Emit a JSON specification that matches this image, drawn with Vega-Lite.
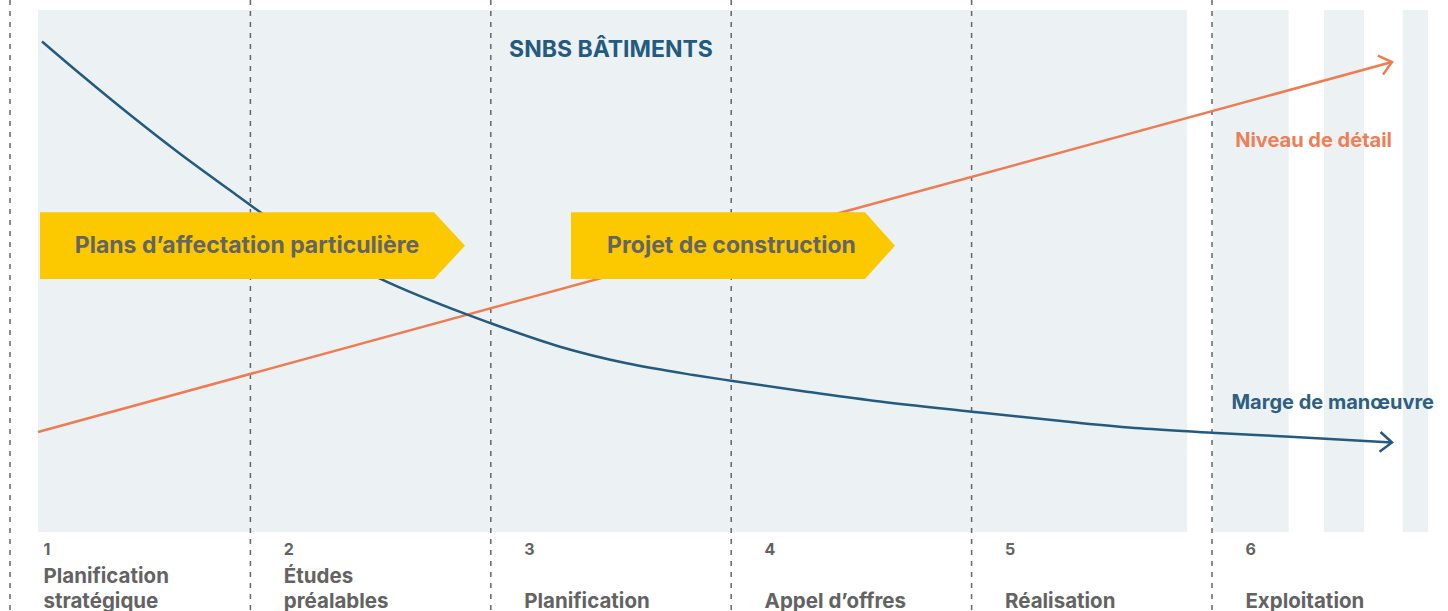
{
  "$schema": "https://vega.github.io/schema/vega-lite/v6.json",
  "width": 1448,
  "height": 611,
  "padding": 0,
  "autosize": {"type": "none"},
  "background": "white",
  "config": {"view": {"stroke": null}, "font": "Inter"},
  "layer": [
    {
      "data": {"values": [
        {"part": "main", "x0": 0.1165, "x1": 4.896, "y0": 0, "y1": 100},
        {"part": "stripe1", "x0": 5.0029, "x1": 5.319, "y0": 0, "y1": 100},
        {"part": "stripe2", "x0": 5.4659, "x1": 5.6323, "y0": 0, "y1": 100},
        {"part": "stripe3", "x0": 5.7932, "x1": 5.8985, "y0": 0, "y1": 100}
      ]},
      "mark": {"type": "rect", "color": "#ecf1f4"},
      "encoding": {
        "x": {"field": "x0", "type": "quantitative", "scale": {"domain": [-0.0416, 5.9817], "nice": false, "zero": false}, "axis": null},
        "x2": {"field": "x1"},
        "y": {"field": "y0", "type": "quantitative", "scale": {"domain": [-15.134, 101.916], "nice": false, "zero": false}, "axis": null},
        "y2": {"field": "y1"}
      }
    },
    {
      "data": {"values": [{"b": 0}, {"b": 1}, {"b": 2}, {"b": 3}, {"b": 4}, {"b": 5}]},
      "mark": {"type": "rule", "color": "#666666", "strokeWidth": 1.5, "strokeDash": [5, 6]},
      "encoding": {
        "x": {"field": "b", "type": "quantitative", "scale": {"domain": [-0.0416, 5.9817], "nice": false, "zero": false}, "axis": null}
      }
    },
    {
      "data": {"values": [{"u": 0.1165, "v": 19.16}, {"u": 5.7488, "v": 90.04}]},
      "mark": {"type": "line", "color": "#ef7b51", "strokeWidth": 2.5},
      "encoding": {
        "x": {"field": "u", "type": "quantitative", "scale": {"domain": [-0.0416, 5.9817], "nice": false, "zero": false}, "axis": null},
        "y": {"field": "v", "type": "quantitative", "scale": {"domain": [-15.134, 101.916], "nice": false, "zero": false}, "axis": null}
      }
    },
    {
      "data": {"values": [
        {"u": 0.1331, "v": 93.97}, {"u": 0.2912, "v": 87.78}, {"u": 0.4992, "v": 79.92},
        {"u": 0.7072, "v": 72.45}, {"u": 0.9151, "v": 65.46}, {"u": 1.0399, "v": 61.3},
        {"u": 1.5391, "v": 48.56}, {"u": 1.8997, "v": 41.7}, {"u": 2.0008, "v": 39.98},
        {"u": 2.2879, "v": 35.5}, {"u": 2.5653, "v": 32.32}, {"u": 2.8423, "v": 30.08},
        {"u": 2.9992, "v": 28.98}, {"u": 3.3141, "v": 26.88}, {"u": 3.5911, "v": 25.15},
        {"u": 4.0004, "v": 23.05}, {"u": 4.4231, "v": 21.02}, {"u": 4.7005, "v": 19.87},
        {"u": 4.9988, "v": 19.02}, {"u": 5.3245, "v": 18.26}, {"u": 5.7488, "v": 17.15}
      ]},
      "mark": {"type": "line", "color": "#245a7e", "strokeWidth": 2.5, "interpolate": "monotone"},
      "encoding": {
        "x": {"field": "u", "type": "quantitative", "scale": {"domain": [-0.0416, 5.9817], "nice": false, "zero": false}, "axis": null},
        "y": {"field": "v", "type": "quantitative", "scale": {"domain": [-15.134, 101.916], "nice": false, "zero": false}, "axis": null}
      }
    },
    {
      "data": {"values": [{"u": 5.7488, "v": 90.04}]},
      "mark": {"type": "point", "shape": "M-1,-0.82L0,0L-1,0.82", "size": 576, "filled": false, "stroke": "#ef7b51", "strokeWidth": 2.5, "opacity": 1, "angle": -15.3},
      "encoding": {
        "x": {"field": "u", "type": "quantitative", "scale": {"domain": [-0.0416, 5.9817], "nice": false, "zero": false}, "axis": null},
        "y": {"field": "v", "type": "quantitative", "scale": {"domain": [-15.134, 101.916], "nice": false, "zero": false}, "axis": null}
      }
    },
    {
      "data": {"values": [{"u": 5.7488, "v": 17.15}]},
      "mark": {"type": "point", "shape": "M-1,-0.82L0,0L-1,0.82", "size": 576, "filled": false, "stroke": "#245a7e", "strokeWidth": 2.5, "opacity": 1, "angle": 3},
      "encoding": {
        "x": {"field": "u", "type": "quantitative", "scale": {"domain": [-0.0416, 5.9817], "nice": false, "zero": false}, "axis": null},
        "y": {"field": "v", "type": "quantitative", "scale": {"domain": [-15.134, 101.916], "nice": false, "zero": false}, "axis": null}
      }
    },
    {
      "data": {"values": [
        {"b": "1", "u": 0.1248, "top": 61.25, "bot": 48.47},
        {"b": "1", "u": 1.7637, "top": 61.25, "bot": 48.47},
        {"b": "1", "u": 1.8927, "top": 54.85, "bot": 54.85},
        {"b": "2", "u": 2.3336, "top": 61.25, "bot": 48.47},
        {"b": "2", "u": 3.5566, "top": 61.25, "bot": 48.47},
        {"b": "2", "u": 3.6814, "top": 54.85, "bot": 54.85}
      ]},
      "mark": {"type": "area", "color": "#fcc900", "opacity": 1, "interpolate": "linear"},
      "encoding": {
        "x": {"field": "u", "type": "quantitative", "scale": {"domain": [-0.0416, 5.9817], "nice": false, "zero": false}, "axis": null},
        "y": {"field": "top", "type": "quantitative", "stack": null, "scale": {"domain": [-15.134, 101.916], "nice": false, "zero": false}, "axis": null},
        "y2": {"field": "bot"},
        "detail": {"field": "b", "type": "nominal"}
      }
    },
    {
      "data": {"values": [
        {"t": "Plans d’affectation particulière", "u": 0.9859, "v": 54.7},
        {"t": "Projet de construction", "u": 3.0012, "v": 54.7}
      ]},
      "mark": {"type": "text", "font": "Inter", "fontSize": 23, "fontWeight": "bold", "color": "#646464", "align": "center", "baseline": "middle"},
      "encoding": {
        "x": {"field": "u", "type": "quantitative", "scale": {"domain": [-0.0416, 5.9817], "nice": false, "zero": false}, "axis": null},
        "y": {"field": "v", "type": "quantitative", "scale": {"domain": [-15.134, 101.916], "nice": false, "zero": false}, "axis": null},
        "text": {"field": "t"}
      }
    },
    {
      "data": {"values": [{"t": "SNBS BÂTIMENTS", "u": 2.5, "v": 92.34}]},
      "mark": {"type": "text", "font": "Inter", "fontSize": 23, "fontWeight": "bold", "color": "#245a7e", "align": "center", "baseline": "middle"},
      "encoding": {
        "x": {"field": "u", "type": "quantitative", "scale": {"domain": [-0.0416, 5.9817], "nice": false, "zero": false}, "axis": null},
        "y": {"field": "v", "type": "quantitative", "scale": {"domain": [-15.134, 101.916], "nice": false, "zero": false}, "axis": null},
        "text": {"field": "t"}
      }
    },
    {
      "data": {"values": [{"t": "Niveau de détail", "u": 5.7488, "v": 74.9}]},
      "mark": {"type": "text", "font": "Inter", "fontSize": 20, "fontWeight": "bold", "color": "#ec7f58", "align": "right", "baseline": "middle"},
      "encoding": {
        "x": {"field": "u", "type": "quantitative", "scale": {"domain": [-0.0416, 5.9817], "nice": false, "zero": false}, "axis": null},
        "y": {"field": "v", "type": "quantitative", "scale": {"domain": [-15.134, 101.916], "nice": false, "zero": false}, "axis": null},
        "text": {"field": "t"}
      }
    },
    {
      "data": {"values": [{"t": "Marge de manœuvre", "u": 5.9235, "v": 24.71}]},
      "mark": {"type": "text", "font": "Inter", "fontSize": 20, "fontWeight": "bold", "color": "#2d5f82", "align": "right", "baseline": "middle"},
      "encoding": {
        "x": {"field": "u", "type": "quantitative", "scale": {"domain": [-0.0416, 5.9817], "nice": false, "zero": false}, "axis": null},
        "y": {"field": "v", "type": "quantitative", "scale": {"domain": [-15.134, 101.916], "nice": false, "zero": false}, "axis": null},
        "text": {"field": "t"}
      }
    },
    {
      "data": {"values": [
        {"t": "1", "u": 0.139, "v": -4.41}, {"t": "2", "u": 1.139, "v": -4.41},
        {"t": "3", "u": 2.139, "v": -4.41}, {"t": "4", "u": 3.139, "v": -4.41},
        {"t": "5", "u": 4.139, "v": -4.41}, {"t": "6", "u": 5.139, "v": -4.41}
      ]},
      "mark": {"type": "text", "font": "Inter", "fontSize": 16, "fontWeight": "bold", "color": "#636363", "align": "left", "baseline": "alphabetic"},
      "encoding": {
        "x": {"field": "u", "type": "quantitative", "scale": {"domain": [-0.0416, 5.9817], "nice": false, "zero": false}, "axis": null},
        "y": {"field": "v", "type": "quantitative", "scale": {"domain": [-15.134, 101.916], "nice": false, "zero": false}, "axis": null},
        "text": {"field": "t"}
      }
    },
    {
      "data": {"values": [
        {"t": "Planification", "u": 0.139, "v": -9.77},
        {"t": "stratégique", "u": 0.139, "v": -14.56},
        {"t": "Études", "u": 1.139, "v": -9.77},
        {"t": "préalables", "u": 1.139, "v": -14.56},
        {"t": "Planification", "u": 2.139, "v": -14.56},
        {"t": "Appel d’offres", "u": 3.139, "v": -14.56},
        {"t": "Réalisation", "u": 4.139, "v": -14.56},
        {"t": "Exploitation", "u": 5.139, "v": -14.56}
      ]},
      "mark": {"type": "text", "font": "Inter", "fontSize": 20.5, "fontWeight": "bold", "color": "#636363", "align": "left", "baseline": "alphabetic"},
      "encoding": {
        "x": {"field": "u", "type": "quantitative", "scale": {"domain": [-0.0416, 5.9817], "nice": false, "zero": false}, "axis": null},
        "y": {"field": "v", "type": "quantitative", "scale": {"domain": [-15.134, 101.916], "nice": false, "zero": false}, "axis": null},
        "text": {"field": "t"}
      }
    }
  ]
}
